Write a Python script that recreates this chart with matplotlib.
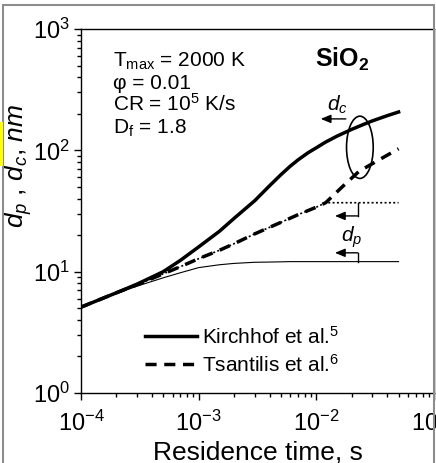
import matplotlib
matplotlib.use("Agg")
import matplotlib.pyplot as plt
from matplotlib.patches import Ellipse, Rectangle

plt.rcParams["font.family"] = ["Liberation Sans", "DejaVu Sans"]
plt.rcParams["mathtext.fontset"] = "custom"
plt.rcParams["mathtext.rm"] = "Liberation Sans"
plt.rcParams["mathtext.it"] = "Liberation Sans:italic"
plt.rcParams["mathtext.bf"] = "Liberation Sans:bold"
plt.rcParams["axes.unicode_minus"] = False

# residence time, s
t_kir = [1e-4, 2e-4, 3e-4, 5e-4, 7e-4, 1e-3, 1.5e-3, 2e-3, 3e-3, 4e-3, 5e-3, 6e-3, 7e-3, 8.5e-3,
         1e-2, 1.2e-2, 1.5e-2, 2e-2, 2.5e-2, 3e-2, 4e-2, 5e-2]
# Kirchhof et al. collision diameter d_c and primary particle d_p, nm
kir_dc = [5.1, 6.7, 7.9, 10.0, 12.4, 16.0, 21.5, 27.5, 38.5, 51.0, 63.0, 74.0, 83.5, 95.5,
          105.0, 117.0, 131.0, 149.0, 163.0, 175.0, 193.0, 207.0]
kir_dp = [5.1, 6.6, 7.6, 8.9, 9.8, 10.8, 11.4, 11.7, 11.95, 12.0, 12.05, 12.1, 12.1, 12.1,
          12.1, 12.1, 12.1, 12.1, 12.1, 12.1, 12.1, 12.1]

t_tsa = [1e-4, 2e-4, 3e-4, 5e-4, 7e-4, 1e-3, 1.5e-3, 2e-3, 3e-3, 5e-3, 7e-3, 1e-2, 1.2e-2, 1.66e-2, 2.3e-2, 3.3e-2, 5e-2]
# Tsantilis et al.
tsa_dc = [5.1, 6.7, 7.8, 9.6, 11.0, 12.8, 15.0, 17.0, 20.5, 25.5, 29.5, 34.0, 37.0, 50.0, 67.0, 82.0, 103.0]
tsa_dp = [5.1, 6.7, 7.8, 9.6, 11.0, 12.8, 15.0, 17.0, 20.5, 25.5, 29.5, 34.0, 37.0, 37.0, 37.0, 37.0, 37.0]

fig = plt.figure(figsize=(4.36, 4.63), dpi=100)
ax = fig.add_axes([81 / 436, 70 / 463, 353 / 436, 364 / 463])

ax.plot(t_kir, kir_dp, color="black", lw=0.8)
ax.plot(t_tsa, tsa_dp, color="black", lw=1.2, ls=(0, (1.2, 1.4)))
l1, = ax.plot(t_kir, kir_dc, color="black", lw=2.5, label="Kirchhof et al.$^5$")
l2, = ax.plot(t_tsa, tsa_dc, color="black", lw=2.5, ls=(0, (3.2, 2.2)), label="Tsantilis et al.$^6$")

ax.set_xscale("log")
ax.set_yscale("log")
ax.set_xlim(1e-4, 1e-1)
ax.set_ylim(1, 1000)

for s in ax.spines.values():
    s.set_linewidth(1.0)
ax.tick_params(which="both", direction="out", width=1.0, top=False, right=False)
ax.tick_params(which="major", length=5, labelsize=17)
ax.tick_params(axis="x", which="major", pad=8)
ax.tick_params(axis="y", which="major", pad=3)
ax.tick_params(which="minor", length=3)

ax.set_xlabel("Residence time, s", fontsize=19, labelpad=3)
ax.set_ylabel(r"$d_p$ , $d_c$, $nm$", fontsize=19)
ax.yaxis.set_label_coords(-0.133, 0.624)

ax.legend(handles=[l1, l2], loc="upper left", bbox_to_anchor=(0.181, 0.185),
          frameon=False, fontsize=15, handlelength=2.5, handletextpad=0.25,
          borderpad=0, borderaxespad=0, labelspacing=0.3)

# parameters
info = [r"T$_{\mathrm{max}}$ = 2000 K", "\u03c6 = 0.01", "CR = 10$^5$ K/s", r"D$_{\mathrm{f}}$ = 1.8"]
for i, s in enumerate(info):
    ax.text(0.09, 0.896 - i * 0.061, s, transform=ax.transAxes, fontsize=15, va="baseline")
ax.text(0.663, 0.896, r"$\mathbf{SiO_2}$", transform=ax.transAxes, fontsize=18, va="baseline")

# annotations
ax.add_patch(Ellipse((0.790, 0.675), 0.0756, 0.171, transform=ax.transAxes,
                     fill=False, ec="black", lw=1.2))
arr = dict(arrowstyle="-|>,head_length=0.6,head_width=0.25", color="black", lw=1.0,
           shrinkA=0, shrinkB=0)
ax.annotate("", xy=(1.09e-2, 181.6), xytext=(1.78e-2, 181.6), arrowprops=arr)
ax.text(1.5e-2, 237, r"$d_c$", fontsize=15, ha="center", va="center")

ax.plot([2.25e-2, 2.25e-2], [37, 28.8], color="black", lw=1.0)
ax.annotate("", xy=(1.44e-2, 28.8), xytext=(2.25e-2, 28.8), arrowprops=arr)

ax.plot([2.25e-2, 2.25e-2], [12.1, 14.3], color="black", lw=1.0)
ax.annotate("", xy=(1.44e-2, 14.3), xytext=(2.25e-2, 14.3), arrowprops=arr)
ax.text(1.99e-2, 19.3, r"$d_p$", fontsize=15, ha="center", va="center")

# page frame bits
fig.add_artist(Rectangle((3 / 436, -0.1), 431 / 436, 1.1 - 5 / 463, transform=fig.transFigure,
                         fill=False, ec="#8c8c8c", lw=1.5))
fig.add_artist(Rectangle((0, 1 - 166 / 463), 2.5 / 436, 44 / 463, transform=fig.transFigure,
                         fc="#ffff00", ec="none"))

fig.savefig("out.png", dpi=100)
